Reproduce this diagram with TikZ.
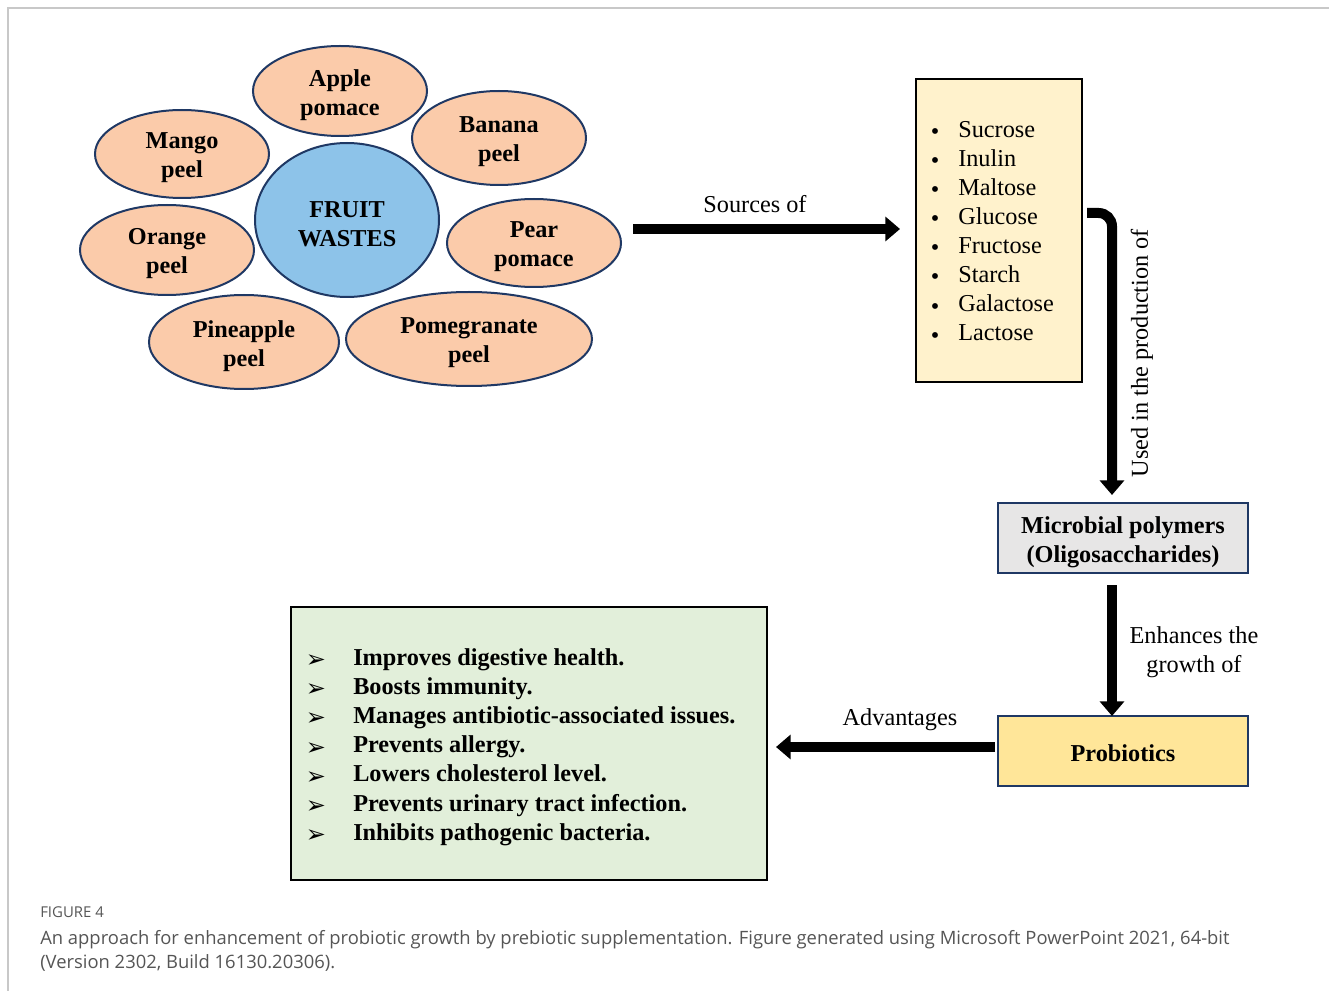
\documentclass[tikz,border=0pt]{standalone}
\usepackage{fontspec}
\setmainfont{Liberation Serif}
\newfontfamily\capfont{Open Sans}
\newfontfamily\symfont{DejaVu Sans}
\usetikzlibrary{arrows.meta,shapes.geometric}
\definecolor{peach}{HTML}{FBCBAA}
\definecolor{skyb}{HTML}{8DC3E9}
\definecolor{navy}{HTML}{1F3864}
\definecolor{cream}{HTML}{FFF2CC}
\definecolor{lgray}{HTML}{E7E6E6}
\definecolor{gold}{HTML}{FFE699}
\definecolor{lgreen}{HTML}{E2EFDA}
\definecolor{frame}{HTML}{C8C8C8}
\definecolor{capgray}{HTML}{555555}
\def\px{0.75pt}
\tikzset{
  fruit/.style={ellipse, draw=navy, line width=1.5pt, fill=peach, inner sep=0pt},
  ftext/.style={font=\fontsize{18.2}{21.75}\selectfont\bfseries, align=center, inner sep=0pt},
  boxA/.style={rectangle, draw=navy, line width=1.5pt, inner sep=0pt},
  listbox/.style={rectangle, draw=black, line width=1.5pt, inner sep=0pt},
  txt/.style={font=\fontsize{18.2}{21.75}\selectfont, inner sep=0pt},
  btxt/.style={font=\fontsize{18.2}{21.75}\selectfont\bfseries, inner sep=0pt},
  bigarrow/.style={line width=7.5pt, -{Triangle[width=18pt,length=11pt]}},
  wh/.style n args={2}{minimum width={#1*\px}, minimum height={#2*\px}},
}
\begin{document}
\begin{tikzpicture}[x=0.75pt,y=-0.75pt]
\useasboundingbox (0,0) rectangle (1329,991);
% frame
\draw[frame, line width=1pt] (8,991) -- (8,8) -- (1329,8);

% fruit cluster
\node[fruit, wh={174}{90}] (apple) at (340,91) {};
\node[fruit, wh={174}{88}] (mango) at (182,154) {};
\node[fruit, wh={174}{94}] (banana) at (499,138) {};
\node[fruit, wh={174}{90}] (orange) at (167,250) {};
\node[fruit, wh={174}{88}] (pear) at (534,243) {};
\node[fruit, wh={190}{94}] (pine) at (244,342) {};
\node[fruit, wh={246}{94}] (pome) at (469,339) {};
\node[fruit, fill=skyb, wh={184}{154}] (fw) at (347,220) {};
\node[ftext] (tapple) at ([yshift=-3pt]apple.center) {Apple\\pomace};
\node[ftext] (tmango) at ([yshift=-3pt]mango.center) {Mango\\peel};
\node[ftext] (tbanana) at ([yshift=-3pt]banana.center) {Banana\\peel};
\node[ftext] (torange) at ([yshift=-3pt]orange.center) {Orange\\peel};
\node[ftext] (tpear) at ([yshift=-3pt]pear.center) {Pear\\pomace};
\node[ftext] (tpine) at ([yshift=-3pt]pine.center) {Pineapple\\peel};
\node[ftext] (tpome) at ([yshift=-3pt]pome.center) {Pomegranate\\peel};
\node[ftext] (tfw) at ([yshift=-3pt]fw.center) {FRUIT\\WASTES};

% sugar box
\node[listbox, fill=cream, wh={166}{303}] (sugar) at (999,230.5) {};
\foreach \t [count=\i from 0] in {Sucrose,Inulin,Maltose,Glucose,Fructose,Starch,Galactose,Lactose}{
  \node[txt] (sb\i) at (935,134+29.1*\i) {•};
  \node[txt, anchor=mid west] (st\i) at (958,134+29.1*\i) {\t};
}

% microbial box
\node[boxA, fill=lgray, wh={250}{70}] (micro) at (1123,538) {};
\node[ftext] (tmicro) at ([yshift=-3pt]micro.center) {Microbial polymers\\(Oligosaccharides)};
% probiotics
\node[boxA, fill=gold, wh={250}{70}] (probio) at (1123,751) {};
\node[ftext] (tprobio) at ([yshift=-1.5pt]probio.center) {Probiotics};

% advantages box
\node[listbox, fill=lgreen, wh={476}{273}] (adv) at (529,743.5) {};
\foreach \t [count=\i from 0] in {Improves digestive health.,Boosts immunity.,Manages antibiotic-associated issues.,Prevents allergy.,Lowers cholesterol level.,Prevents urinary tract infection.,Inhibits pathogenic bacteria.}{
  \node[font=\symfont\fontsize{18}{20}\selectfont, inner sep=0pt] (ab\i) at (316,661+29.2*\i) {➢};
  \node[btxt, anchor=mid west] (at\i) at (353,662+29.2*\i) {\t};
}

% arrows
\coordinate (s1) at (633,229);
\coordinate (s2) at (900,229);
\draw[bigarrow] (s1) -- (s2);
\node[txt] (lsrc) at (755,204) {Sources of};

\coordinate (u1) at (1087,213);
\coordinate (u2) at (1112,495);
\draw[bigarrow, rounded corners=10pt] (u1) -| (u2);
\node[txt, rotate=90] (luse) at (1142,353) {Used in the production of};

\coordinate (e1) at (1112,585);
\coordinate (e2) at (1112,716);
\draw[bigarrow] (e1) -- (e2);
\node[txt, align=center] (lenh) at (1194,652) {Enhances the\\growth of};

\coordinate (v1) at (995,747);
\coordinate (v2) at (776,747);
\draw[bigarrow] (v1) -- (v2);
\node[txt] (ladv) at (900,720) {Advantages};

% caption
\node[font=\capfont\fontsize{11.2}{13}\selectfont, text=capgray, anchor=west, inner sep=0pt] (fig) at (40,912) {FIGURE 4};
\node[font=\capfont\fontsize{13.8}{18}\selectfont, text=capgray, anchor=north west, align=left, inner sep=0pt] (cap) at (40,930)
 {An approach for enhancement of probiotic growth by prebiotic supplementation. Figure generated using Microsoft PowerPoint 2021, 64-bit\\(Version 2302, Build 16130.20306).};
\end{tikzpicture}
\end{document}
